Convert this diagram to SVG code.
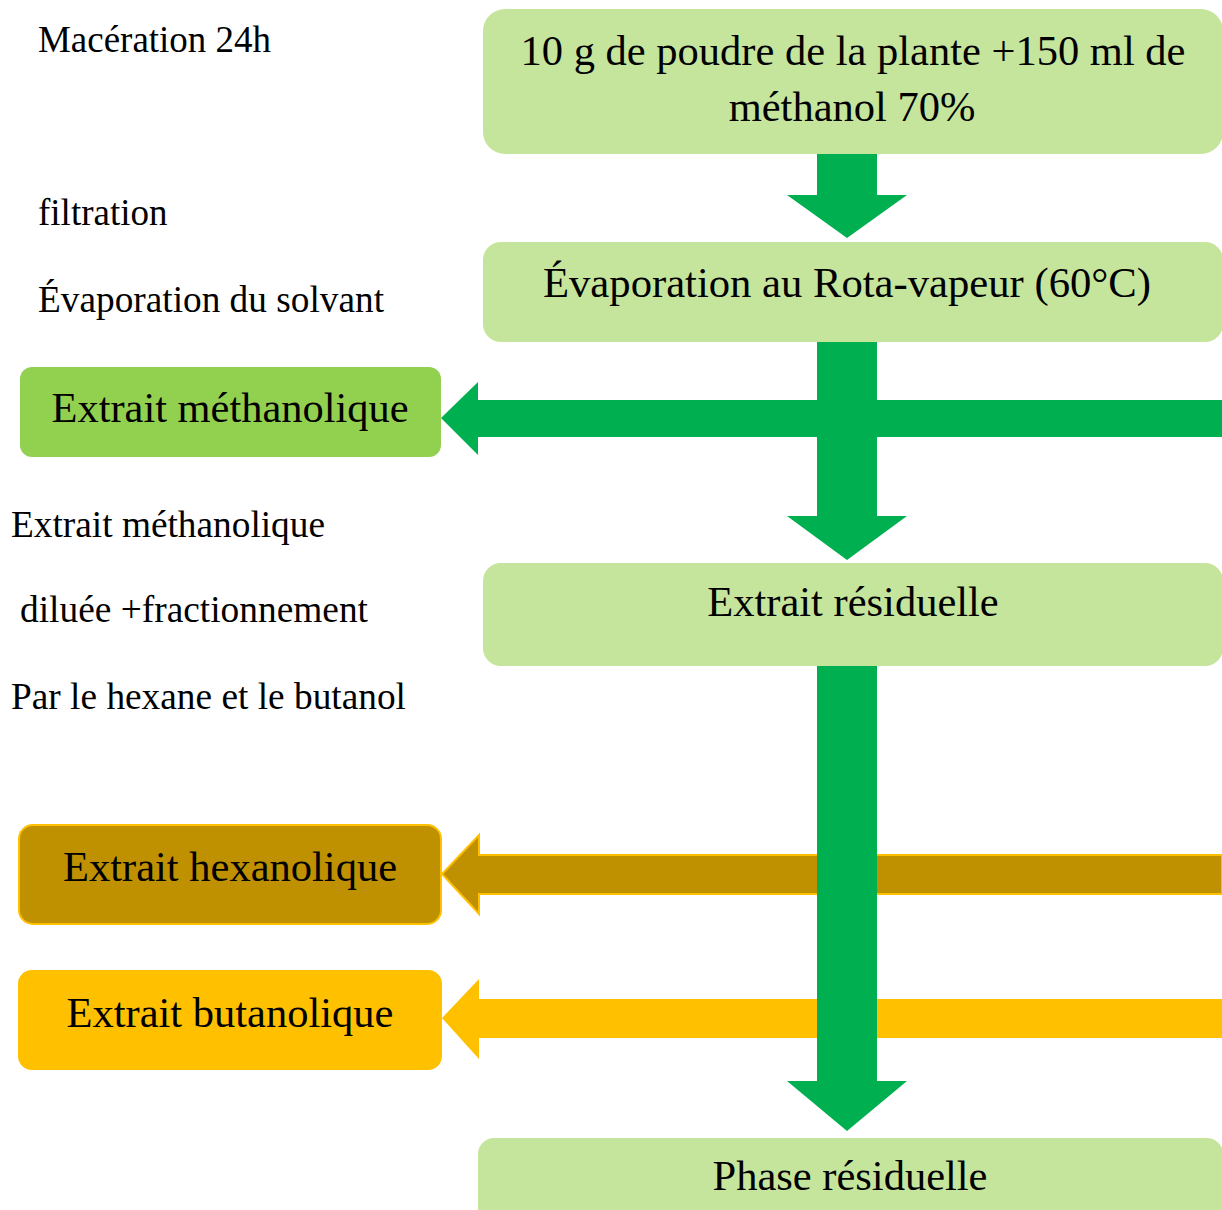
<svg xmlns="http://www.w3.org/2000/svg" width="1222" height="1210" viewBox="0 0 1222 1210">
<style>
text{font-family:"Liberation Serif","Times New Roman",serif;fill:#000}
.lab{font-size:37px}
.bt{font-size:42.5px;text-anchor:middle}
.lg{fill:#C5E59C}
.g{fill:#00B050}
</style>
<rect width="1222" height="1210" fill="#fff"/>
<g id="connectors">
  <polygon id="c-meth" class="g" points="1222,400 478,400 478,382 441,418 478,455 478,437 1222,437"/>
  <polygon id="c-hex" points="1222,855 479,855 479,835 442,874 479,914 479,894 1222,894" fill="#BF9000" stroke="#FFC000" stroke-width="2"/>
  <polygon id="c-but" points="1222,999 479,999 479,979 442,1018 479,1059 479,1038 1222,1038" fill="#FFC000"/>
  <polygon id="c1" class="g" points="817,153 877,153 877,195 907,195 847,238 787,195 817,195"/>
  <polygon id="c2" class="g" points="817,340 877,340 877,516 907,516 847,560 787,516 817,516"/>
  <polygon id="c3" class="g" points="817,665 877,665 877,1081 907,1081 847,1131 787,1081 817,1081"/>
</g>
<g id="n-plante">
  <rect class="lg" x="483" y="9" width="740" height="145" rx="22"/>
  <text class="bt" x="853" y="65" textLength="665" lengthAdjust="spacingAndGlyphs">10 g de poudre de la plante +150 ml de</text>
  <text class="bt" x="852" y="121">méthanol 70%</text>
</g>
<g id="n-evap">
  <rect class="lg" x="483" y="242" width="740" height="100" rx="18"/>
  <text class="bt" x="847" y="297" textLength="608" lengthAdjust="spacingAndGlyphs">Évaporation au Rota-vapeur (60°C)</text>
</g>
<g id="n-meth">
  <rect x="20" y="367" width="421" height="90" rx="12" fill="#92D050"/>
  <text class="bt" x="230" y="422" textLength="357" lengthAdjust="spacingAndGlyphs">Extrait méthanolique</text>
</g>
<g id="n-resid">
  <rect class="lg" x="483" y="563" width="740" height="103" rx="18"/>
  <text class="bt" x="853" y="616">Extrait résiduelle</text>
</g>
<g id="n-hex">
  <rect x="19" y="825" width="422" height="99" rx="14" fill="#BF9000" stroke="#FFC000" stroke-width="2"/>
  <text class="bt" x="230" y="881" textLength="334" lengthAdjust="spacingAndGlyphs">Extrait hexanolique</text>
</g>
<g id="n-but">
  <rect x="18" y="970" width="424" height="100" rx="14" fill="#FFC000"/>
  <text class="bt" x="230" y="1027" textLength="327" lengthAdjust="spacingAndGlyphs">Extrait butanolique</text>
</g>
<g id="n-phase">
  <rect class="lg" x="478" y="1138" width="745" height="90" rx="16"/>
  <text class="bt" x="850" y="1190">Phase résiduelle</text>
</g>
<g id="labels">
  <text class="lab" x="38" y="52" textLength="233" lengthAdjust="spacingAndGlyphs">Macération 24h</text>
  <text class="lab" x="38" y="225">filtration</text>
  <text class="lab" x="38" y="312" textLength="346" lengthAdjust="spacingAndGlyphs">Évaporation du solvant</text>
  <text class="lab" x="11" y="537" textLength="314" lengthAdjust="spacingAndGlyphs">Extrait méthanolique</text>
  <text class="lab" x="20" y="622" textLength="348" lengthAdjust="spacingAndGlyphs">diluée +fractionnement</text>
  <text class="lab" x="11" y="709" textLength="395" lengthAdjust="spacingAndGlyphs">Par le hexane et le butanol</text>
</g>
</svg>
